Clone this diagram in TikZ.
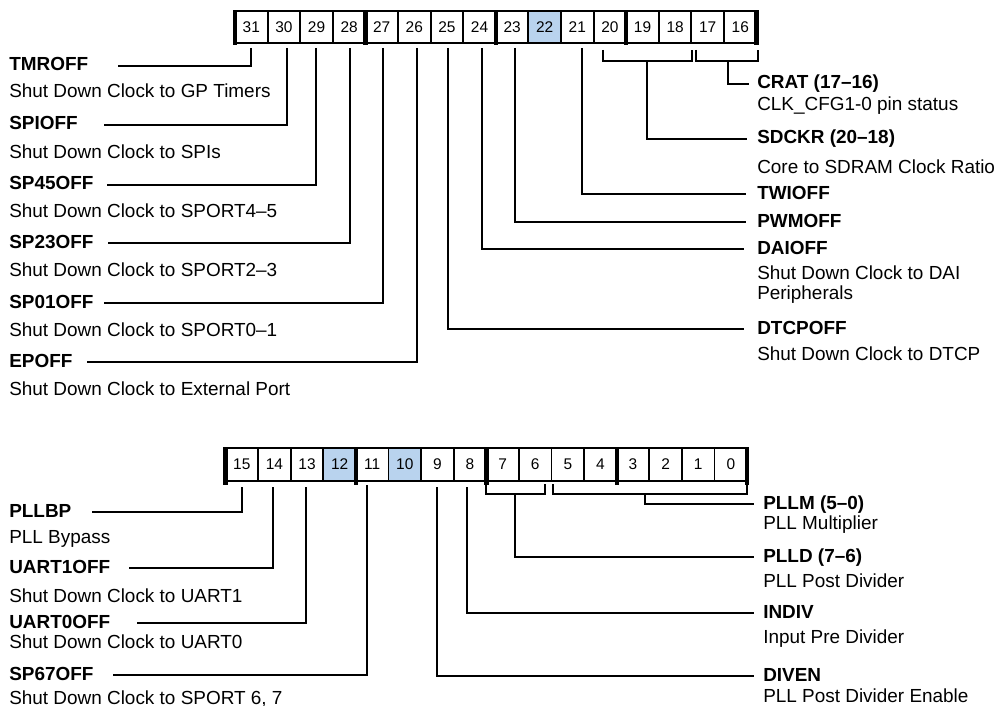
\documentclass[tikz,border=0pt]{standalone}
\usepackage{fontspec}
\setmainfont{Liberation Sans}
\definecolor{hl}{RGB}{185,211,238}
\begin{document}
\begin{tikzpicture}[x=0.75pt,y=-0.75pt,
  ln/.style={line width=1.5pt},
  cell/.style={draw,line width=1.4pt,minimum width=24.45pt,minimum height=24.2pt,inner sep=0pt,font=\fontsize{11.6}{13}\selectfont},
  lbl/.style={font=\bfseries\fontsize{14.2}{17}\selectfont,inner sep=0pt,text height=10pt,text depth=2.5pt},
  dsc/.style={font=\fontsize{14.2}{17}\selectfont,inner sep=0pt,anchor=base west}]
\useasboundingbox (0,0) rectangle (1002,706);
% ---------- top register ----------
\foreach \b in {31,...,16}{
  \pgfmathsetmacro\xc{235+(31-\b)*32.6+16.3}
  \ifnum\b=22 \def\fc{hl}\else\def\fc{white}\fi
  \node[cell,fill=\fc] (c\b) at (\xc,27) {\b};
}
\foreach \i in {0,4,8,12,16} \fill (235+\i*32.6-2.2,10.3) rectangle ++(4.4,35);
% ---------- bottom register ----------
\foreach \b in {15,...,0}{
  \pgfmathsetmacro\xc{225.5+(15-\b)*32.6+16.3}
  \ifnum\b=12 \def\fc{hl}\else\ifnum\b=10 \def\fc{hl}\else\def\fc{white}\fi\fi
  \node[cell,fill=\fc] (d\b) at (\xc,464.5) {\b};
}
\foreach \i in {0,4,8,12,16} \fill (225.5+\i*32.6-2.2,447.3) rectangle ++(4.4,37.5);
% ---------- leader start points ----------
\coordinate (v31) at (251,48);
\coordinate (v30) at (287,48);
\coordinate (v29) at (316,48);
\coordinate (v28) at (350,48);
\coordinate (v27) at (383,48);
\coordinate (v26) at (417,48);
\coordinate (v25) at (448,48);
\coordinate (v24) at (482,48);
\coordinate (v23) at (515,48);
\coordinate (v21) at (582,48);
\coordinate (m2018) at (647,61);
\coordinate (m1716) at (728,61);
\coordinate (v15) at (242,487);
\coordinate (v14) at (273,487);
\coordinate (v13) at (306,487);
\coordinate (v11) at (367,485);
\coordinate (v9) at (437,487);
\coordinate (v8) at (467,487);
\coordinate (m76) at (515,494);
\coordinate (m50) at (645,494);
% brackets
\draw[ln] (603,50) -- (603,61) -- (692,61) -- (692,50);
\draw[ln] (696,50) -- (696,61) -- (758,61) -- (758,50);
\draw[ln] (486,484) -- (486,494) -- (545,494) -- (545,484);
\draw[ln] (553,484) -- (553,494) -- (747,494) -- (747,484);
% ---------- left labels (top) ----------
\node[lbl,anchor=west] (tmroff) at (9,66) {TMROFF};
\node[dsc] (tmroffd) at (9,98) {Shut Down Clock to GP Timers};
\node[lbl,anchor=west] (spioff) at (9,125) {SPIOFF};
\node[dsc] (spioffd) at (9,158) {Shut Down Clock to SPIs};
\node[lbl,anchor=west] (sp45off) at (9,185) {SP45OFF};
\node[dsc] (sp45offd) at (9,217) {Shut Down Clock to SPORT4–5};
\node[lbl,anchor=west] (sp23off) at (9,243) {SP23OFF};
\node[dsc] (sp23offd) at (9,276) {Shut Down Clock to SPORT2–3};
\node[lbl,anchor=west] (sp01off) at (9,303) {SP01OFF};
\node[dsc] (sp01offd) at (9,336) {Shut Down Clock to SPORT0–1};
\node[lbl,anchor=west] (epoff) at (9,362) {EPOFF};
\node[dsc] (epoffd) at (9,395) {Shut Down Clock to External Port};
\draw[ln] (v31) |- ([xshift=22pt]tmroff.east);
\draw[ln] (v30) |- ([xshift=19.5pt]spioff.east);
\draw[ln] (v29) |- ([xshift=10pt]sp45off.east);
\draw[ln] (v28) |- ([xshift=11pt]sp23off.east);
\draw[ln] (v27) |- ([xshift=8pt]sp01off.east);
\draw[ln] (v26) |- ([xshift=10.5pt]epoff.east);
% ---------- right labels (top) ----------
\node[lbl,anchor=west] (crat) at (757,84) {CRAT (17–16)};
\node[dsc] (cratd) at (757,111) {CLK\_CFG1-0 pin status};
\node[lbl,anchor=west] (sdckr) at (757,139) {SDCKR (20–18)};
\node[dsc] (sdckrd) at (757,173) {Core to SDRAM Clock Ratio};
\node[lbl,anchor=west] (twioff) at (757,194) {TWIOFF};
\node[lbl,anchor=west] (pwmoff) at (757,222) {PWMOFF};
\node[lbl,anchor=west] (daioff) at (757,249) {DAIOFF};
\node[dsc] (daioffd) at (757,279) {Shut Down Clock to DAI};
\node[dsc] (daioffe) at (757,299) {Peripherals};
\node[lbl,anchor=west] (dtcpoff) at (757,329) {DTCPOFF};
\node[dsc] (dtcpoffd) at (757,360) {Shut Down Clock to DTCP};
\draw[ln] (m1716) |- ([xshift=-6pt]crat.west);
\draw[ln] (m2018) |- ([xshift=-7.5pt]sdckr.west);
\draw[ln] (v21) |- ([xshift=-8.5pt]twioff.west);
\draw[ln] (v23) |- ([xshift=-8.5pt]pwmoff.west);
\draw[ln] (v24) |- ([xshift=-10pt]daioff.west);
\draw[ln] (v25) |- ([xshift=-10pt]dtcpoff.west);
% ---------- left labels (bottom) ----------
\node[lbl,anchor=west] (pllbp) at (9,512) {PLLBP};
\node[dsc] (pllbpd) at (9,543) {PLL Bypass};
\node[lbl,anchor=west] (uart1off) at (9,568) {UART1OFF};
\node[dsc] (uart1offd) at (9,602) {Shut Down Clock to UART1};
\node[lbl,anchor=west] (uart0off) at (9,623) {UART0OFF};
\node[dsc] (uart0offd) at (9,648) {Shut Down Clock to UART0};
\node[lbl,anchor=west] (sp67off) at (9,675) {SP67OFF};
\node[dsc] (sp67offd) at (9,704) {Shut Down Clock to SPORT 6, 7};
\draw[ln] (v15) |- ([xshift=15pt]pllbp.east);
\draw[ln] (v14) |- ([xshift=13.5pt]uart1off.east);
\draw[ln] (v13) |- ([xshift=20pt]uart0off.east);
\draw[ln] (v11) |- ([xshift=14.5pt]sp67off.east);
% ---------- right labels (bottom) ----------
\node[lbl,anchor=west] (pllm) at (763,504) {PLLM (5–0)};
\node[dsc] (pllmd) at (763,529) {PLL Multiplier};
\node[lbl,anchor=west] (plld) at (763,557) {PLLD (7–6)};
\node[dsc] (plldd) at (763,587) {PLL Post Divider};
\node[lbl,anchor=west] (indiv) at (763,613) {INDIV};
\node[dsc] (indivd) at (763,643) {Input Pre Divider};
\node[lbl,anchor=west] (diven) at (763,676) {DIVEN};
\node[dsc] (divend) at (763,702) {PLL Post Divider Enable};
\draw[ln] (m50) |- ([xshift=-7pt]pllm.west);
\draw[ln] (m76) |- ([xshift=-7pt]plld.west);
\draw[ln] (v8) |- ([xshift=-7pt]indiv.west);
\draw[ln] (v9) |- ([xshift=-7pt]diven.west);
\end{tikzpicture}
\end{document}
